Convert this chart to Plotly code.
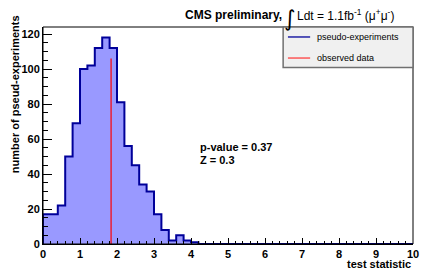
import plotly.graph_objects as go

# Histogram of pseudo-experiments: bin width 0.2 on [0, 10]
bin_width = 0.2
counts = [17, 17, 22, 50, 69, 100, 102, 112, 118, 112,
          81, 56, 45, 34, 30, 17, 8, 2, 5, 2,
          1] + [0] * 29
observed = 1.84
observed_height = 106
p_value = "0.37"
z_value = "0.3"
x_ticks = list(range(0, 11))
y_ticks = [0, 20, 40, 60, 80, 100, 120]

edges = [i * bin_width for i in range(len(counts) + 1)]
step_x = [0.0] + edges
step_y = [0] + counts + [counts[-1]]

FONT = "Liberation Sans, Arial, sans-serif"
NAVY = "#000099"
FILL = "#9999ff"

fig = go.Figure()
fig.add_trace(go.Scatter(
    x=step_x, y=step_y, mode="lines", line_shape="hv",
    line=dict(color=NAVY, width=2), fill="tozeroy", fillcolor=FILL,
    name="pseudo-experiments", showlegend=False, hoverinfo="skip"))
fig.add_trace(go.Scatter(
    x=[observed, observed], y=[0, observed_height], mode="lines",
    line=dict(color="#ff0000", width=1.2), name="observed data",
    showlegend=False))

# frame
fig.add_shape(type="rect", xref="paper", yref="paper", x0=0, x1=1, y0=0, y1=1,
              line=dict(color="black", width=1), layer="above")

# legend box (ROOT style)
lx0, lx1, ly0, ly1 = 0.649, 1.0, 0.813, 1.0
fig.add_shape(type="rect", xref="paper", yref="paper", x0=lx0, x1=lx1,
              y0=ly0, y1=ly1, fillcolor="#f0f0f0",
              line=dict(color="#707070", width=1.5), layer="above")
entries = [("pseudo-experiments", NAVY, 0.954), ("observed data", "#ff4040", 0.857)]
for label, col, yy in entries:
    fig.add_shape(type="line", xref="paper", yref="paper", x0=0.662, x1=0.722,
                  y0=yy, y1=yy, line=dict(color=col, width=1.3), layer="above")
    fig.add_annotation(xref="paper", yref="paper", x=0.736, y=yy, text=label,
                       showarrow=False, xanchor="left", yanchor="middle",
                       font=dict(family=FONT, size=9, color="black"))

# title
fig.add_annotation(xref="paper", yref="paper", x=0.651, y=1.055,
                   text="<b>CMS preliminary,</b>", showarrow=False,
                   xanchor="right", yanchor="middle",
                   font=dict(family=FONT, size=12, color="black"))
fig.add_annotation(xref="paper", yref="paper", x=0.666, y=1.04,
                   text="∫", showarrow=False, xanchor="center", yanchor="middle",
                   font=dict(family="DejaVu Sans, sans-serif", size=22, color="black"))
fig.add_annotation(xref="paper", yref="paper", x=0.682, y=1.055,
                   text="Ldt = 1.1fb<sup>-1</sup> (μ<sup>+</sup>μ<sup>-</sup>)",
                   showarrow=False, xanchor="left", yanchor="middle",
                   font=dict(family=FONT, size=12, color="black"))

# p-value text
fig.add_annotation(x=4.18, y=55.5, text="<b>p-value = " + p_value + "</b>",
                   showarrow=False, xanchor="left", yanchor="middle",
                   font=dict(family=FONT, size=11, color="black"))
fig.add_annotation(x=4.18, y=48, text="<b>Z = " + z_value + "</b>",
                   showarrow=False, xanchor="left", yanchor="middle",
                   font=dict(family=FONT, size=11, color="black"))

# axis titles
fig.add_annotation(xref="paper", yref="paper", x=1.0, y=-0.093,
                   text="<b>test statistic</b>", showarrow=False,
                   xanchor="right", yanchor="middle",
                   font=dict(family=FONT, size=11, color="black"))
fig.add_annotation(xref="paper", yref="paper", x=-0.075, y=1.065,
                   text="<b>number of pseud-experiments</b>", showarrow=False,
                   textangle=-90, xanchor="center", yanchor="top",
                   font=dict(family=FONT, size=11, color="black"))

fig.update_layout(
    width=436, height=272,
    margin=dict(l=43, r=23, t=27, b=28),
    paper_bgcolor="white", plot_bgcolor="white",
    showlegend=False,
    xaxis=dict(range=[0, 10], tickvals=x_ticks, ticks="inside", ticklen=6,
               tickcolor="black", showgrid=False, zeroline=False,
               showline=True, linecolor="black",
               tickfont=dict(family=FONT, size=11, color="black", weight="bold"),
               minor=dict(dtick=0.2, ticks="inside", ticklen=3, tickcolor="black"),
               fixedrange=True),
    yaxis=dict(range=[0, 124], tickvals=y_ticks, ticks="inside", ticklen=9,
               tickcolor="black", showgrid=False, zeroline=False,
               showline=True, linecolor="black",
               tickfont=dict(family=FONT, size=11, color="black", weight="bold"),
               minor=dict(dtick=5, ticks="inside", ticklen=5, tickcolor="black"),
               fixedrange=True),
)

fig.write_html("out.html", config={"displayModeBar": False},
               post_script="document.body.style.margin='0';document.body.style.padding='0';")
